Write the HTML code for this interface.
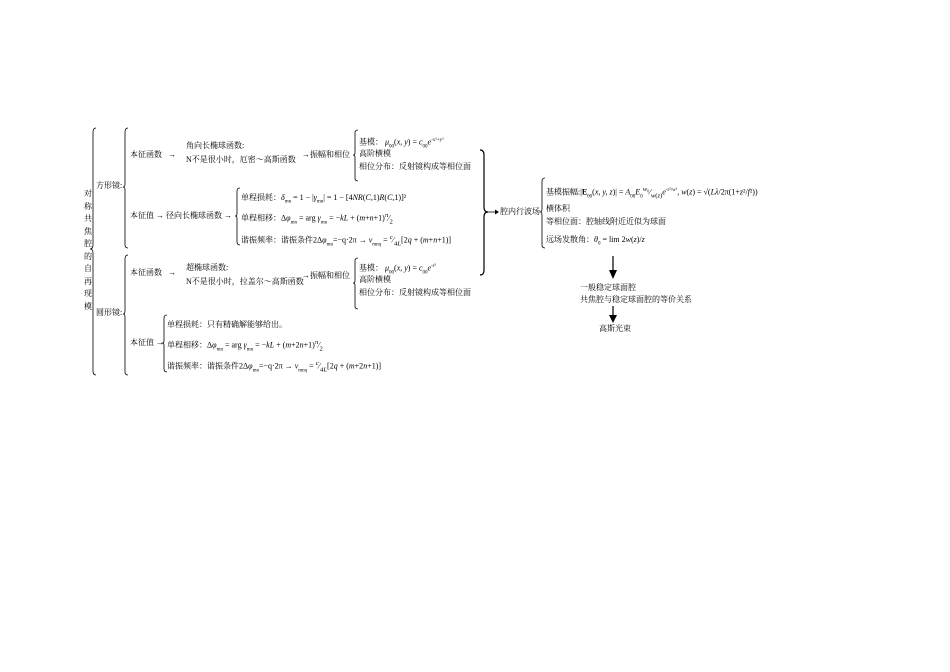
<!DOCTYPE html>
<html><head><meta charset="utf-8"><style>
body{margin:0;width:950px;height:672px;background:#fff;position:relative;overflow:hidden;font-family:"Liberation Serif","Noto Serif CJK SC",serif;font-size:8px;color:#000}
.t{position:absolute;white-space:nowrap;line-height:10px}
svg{position:absolute;left:0;top:0}
i{font-style:italic}
</style></head><body>
<svg width="950" height="672" fill="none" stroke="#000" stroke-width="0.8">
<path d="M96 128 q-3 0 -3 4 v113 q0 4 -3 4 q3 0 3 4 v118 q0 4 3 4"/>
<path d="M128 128 q-3 0 -3 4 v52 q0 3 -2 3 q2 0 2 3 v55 q0 3 3 3"/>
<path d="M128 255 q-3 0 -3 4 v52 q0 3 -2 3 q2 0 2 3 v55 q0 3 3 3"/>
<path d="M358 130 q-3 0 -3 3 v20 q0 2 -2 2 q2 0 2 2 v21 q0 3 3 3"/>
<path d="M358 258 q-3 0 -3 3 v20 q0 2 -2 2 q2 0 2 2 v21 q0 3 3 3"/>
<path d="M240 188 q-3 0 -3 3 v23 q0 2 -2 2 q2 0 2 2 v24 q0 3 3 3"/>
<path d="M167 315 q-3 0 -3 3 v23 q0 2 -2 2 q2 0 2 2 v24 q0 3 3 3"/>
<path d="M545 178 q-3 0 -3 3 v28 q0 3 -2 3 q2 0 2 3 v30 q0 3 3 3"/>
<path d="M480 150 q4 0 4 5 v52 q0 5 4 5 q-4 0 -4 5 v53 q0 5 -4 5" stroke-width="1.2"/>
<path d="M488 212 h8"/>
<path d="M613 256 v16" stroke-width="1.2"/>
<path d="M613 306 v12" stroke-width="1.2"/>
</svg>
<svg width="950" height="672"><polygon points="609,270 617,270 613,279" fill="#000"/><polygon points="609,315 617,315 613,323" fill="#000"/><polygon points="495,209.5 499,212 495,214.5" fill="#000"/></svg>
<div class="t" style="left:84px;top:188px;width:10px;line-height:12.5px;white-space:normal">对称共焦腔的自再现模</div>
<div class="t" style="left:96px;top:181px">方形镜:</div>
<div class="t" style="left:96px;top:308px">圆形镜:</div>
<div class="t" style="left:130px;top:150px">本征函数 &nbsp;&nbsp;→</div>
<div class="t" style="left:186px;top:141px">角向长椭球函数:</div>
<div class="t" style="left:186px;top:155px">N不是很小时，厄密～高斯函数</div>
<div class="t" style="left:302px;top:150px">→振幅和相位</div>
<div class="t" style="left:359px;top:136px">基模： <i>μ</i><sub style="font-size:5px">00</sub>(<i>x, y</i>) = <i>c</i><sub style="font-size:5px">00</sub><i>e</i><sup style="font-size:5px">-x²+y²</sup></div>
<div class="t" style="left:359px;top:149px">高阶横模</div>
<div class="t" style="left:359px;top:162px">相位分布：反射镜构成等相位面</div>
<div class="t" style="left:130px;top:211px">本征值 → 径向长椭球函数 →</div>
<div class="t" style="left:241px;top:193px">单程损耗：<i>δ</i><sub style="font-size:5px">mn</sub> = 1 − |<i>γ</i><sub style="font-size:5px">mn</sub>| = 1 − [4<i>NR</i>(<i>C</i>,1)<i>R</i>(<i>C</i>,1)]²</div>
<div class="t" style="left:241px;top:211px">单程相移：Δ<i>φ</i><sub style="font-size:5px">mn</sub> = arg <i>γ</i><sub style="font-size:5px">mn</sub> = −<i>kL</i> + (<i>m</i>+<i>n</i>+1)<sup>π</sup>⁄<sub>2</sub></div>
<div class="t" style="left:241px;top:233px">谐振频率：谐振条件2Δ<i>φ</i><sub style="font-size:5px">mn</sub>=−q·2π → <i>ν</i><sub style="font-size:5px">mnq</sub> = <sup><i>c</i></sup>⁄<sub>4<i>L</i></sub>[2<i>q</i> + (<i>m</i>+<i>n</i>+1)]</div>
<div class="t" style="left:130px;top:268px">本征函数 &nbsp;&nbsp;→</div>
<div class="t" style="left:186px;top:263px">超椭球函数:</div>
<div class="t" style="left:186px;top:277px">N不是很小时，拉盖尔～高斯函数</div>
<div class="t" style="left:302px;top:271px">→振幅和相位</div>
<div class="t" style="left:359px;top:262px">基模： <i>μ</i><sub style="font-size:5px">00</sub>(<i>x, y</i>) = <i>c</i><sub style="font-size:5px">00</sub><i>e</i><sup style="font-size:5px">-r²</sup></div>
<div class="t" style="left:359px;top:275px">高阶横模</div>
<div class="t" style="left:359px;top:288px">相位分布：反射镜构成等相位面</div>
<div class="t" style="left:130px;top:338px">本征值 →</div>
<div class="t" style="left:167px;top:320px">单程损耗：只有精确解能够给出。</div>
<div class="t" style="left:167px;top:338px">单程相移：Δ<i>φ</i><sub style="font-size:5px">mn</sub> = arg <i>γ</i><sub style="font-size:5px">mn</sub> = −<i>kL</i> + (<i>m</i>+2<i>n</i>+1)<sup>π</sup>⁄<sub>2</sub></div>
<div class="t" style="left:167px;top:359px">谐振频率：谐振条件2Δ<i>φ</i><sub style="font-size:5px">mn</sub>=−q·2π → <i>ν</i><sub style="font-size:5px">mnq</sub> = <sup><i>c</i></sup>⁄<sub>4<i>L</i></sub>[2<i>q</i> + (<i>m</i>+2<i>n</i>+1)]</div>
<div class="t" style="left:500px;top:207px">腔内行波场</div>
<div class="t" style="left:546px;top:185px">基模振幅:|<b>E</b><sub style="font-size:5px">00</sub>(<i>x, y, z</i>)| = <i>A</i><sub style="font-size:5px">00</sub><i>E</i><sub style="font-size:5px">0</sub><sup><i>w</i>₀</sup>⁄<sub><i>w</i>(<i>z</i>)</sub><i>e</i><sup style="font-size:5px">-r²/w²</sup>, <i>w</i>(<i>z</i>) = √(<i>Lλ</i>/2π(1+<i>z</i>²/<i>f</i>²))</div>
<div class="t" style="left:546px;top:204px">横体积</div>
<div class="t" style="left:546px;top:217px">等相位面：腔轴线附近近似为球面</div>
<div class="t" style="left:546px;top:235px">远场发散角：<i>θ</i><sub style="font-size:5px">0</sub> = lim 2<i>w</i>(<i>z</i>)/<i>z</i></div>
<div class="t" style="left:580px;top:283px">一般稳定球面腔</div>
<div class="t" style="left:580px;top:295px">共焦腔与稳定球面腔的等价关系</div>
<div class="t" style="left:599px;top:324px">高斯光束</div>
</body></html>
